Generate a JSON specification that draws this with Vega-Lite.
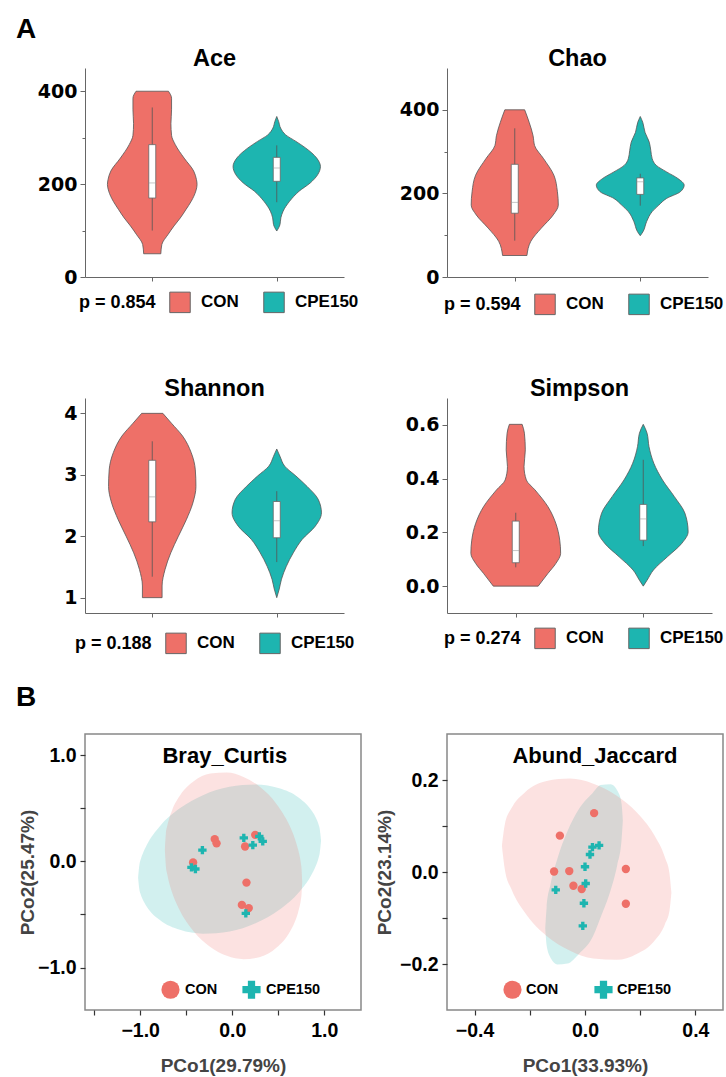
{
  "$schema": "https://vega.github.io/schema/vega-lite/v6.json",
  "background": "white",
  "padding": {"left": 15, "top": 15, "right": 0, "bottom": 0},
  "title": {"text": "A", "anchor": "start", "frame": "group", "dx": -69, "offset": 3, "fontSize": 28},
  "columns": 2,
  "align": "none",
  "bounds": "flush",
  "spacing": {"row": 121, "column": 86},
  "resolve": {"scale": {"color": "independent", "shape": "independent"}, "legend": {"color": "independent", "shape": "independent"}},
  "config": {
    "view": {"stroke": null},
    "axis": {"grid": false, "domainColor": "#666", "tickColor": "#666", "labelColor": "#000", "labelFont": "DejaVu Sans", "labelFontWeight": "bold", "labelFontSize": 19, "labelPadding": 3},
    "legend": {"padding": 0, "orient": "none", "direction": "horizontal", "symbolType": "square", "symbolSize": 420, "symbolStrokeColor": "#666", "symbolStrokeWidth": 1, "symbolOpacity": 1, "labelFont": "Liberation Sans", "labelFontWeight": "bold", "labelFontSize": 17, "labelColor": "#000", "labelOffset": 10, "columnPadding": 22, "titleFont": "Liberation Sans", "titleFontWeight": "bold", "titleFontSize": 18, "titleColor": "#000", "titlePadding": 13, "titleOrient": "left", "titleAnchor": "middle", "titleBaseline": "middle"},
    "title": {"font": "Liberation Sans", "fontWeight": "bold", "color": "#000", "baseline": "alphabetic"}
  },
  "datasets": {
    "aceV": [
      {"g": "CON", "v": 400, "lo": -0.13, "hi": 0.13}, {"g": "CON", "v": 385, "lo": -0.155, "hi": 0.155}, {"g": "CON", "v": 360, "lo": -0.155, "hi": 0.155}, {"g": "CON", "v": 330, "lo": -0.15, "hi": 0.15}, {"g": "CON", "v": 305, "lo": -0.155, "hi": 0.155}, {"g": "CON", "v": 285, "lo": -0.185, "hi": 0.185}, {"g": "CON", "v": 256, "lo": -0.256, "hi": 0.256}, {"g": "CON", "v": 228, "lo": -0.333, "hi": 0.333}, {"g": "CON", "v": 210, "lo": -0.355, "hi": 0.355}, {"g": "CON", "v": 199, "lo": -0.36, "hi": 0.36}, {"g": "CON", "v": 185, "lo": -0.35, "hi": 0.35}, {"g": "CON", "v": 163, "lo": -0.313, "hi": 0.313}, {"g": "CON", "v": 145, "lo": -0.27, "hi": 0.27}, {"g": "CON", "v": 127, "lo": -0.225, "hi": 0.225}, {"g": "CON", "v": 110, "lo": -0.175, "hi": 0.175}, {"g": "CON", "v": 92, "lo": -0.128, "hi": 0.128}, {"g": "CON", "v": 70, "lo": -0.077, "hi": 0.077}, {"g": "CON", "v": 50, "lo": -0.069, "hi": 0.069},
      {"g": "CPE150", "v": 345.6, "lo": 1, "hi": 1}, {"g": "CPE150", "v": 335, "lo": 0.985, "hi": 1.015}, {"g": "CPE150", "v": 320.6, "lo": 0.969, "hi": 1.031}, {"g": "CPE150", "v": 306, "lo": 0.928, "hi": 1.072}, {"g": "CPE150", "v": 292, "lo": 0.846, "hi": 1.154}, {"g": "CPE150", "v": 278, "lo": 0.769, "hi": 1.231}, {"g": "CPE150", "v": 256, "lo": 0.679, "hi": 1.321}, {"g": "CPE150", "v": 238, "lo": 0.649, "hi": 1.351}, {"g": "CPE150", "v": 220, "lo": 0.672, "hi": 1.328}, {"g": "CPE150", "v": 202.5, "lo": 0.731, "hi": 1.269}, {"g": "CPE150", "v": 184.6, "lo": 0.821, "hi": 1.179}, {"g": "CPE150", "v": 163, "lo": 0.897, "hi": 1.103}, {"g": "CPE150", "v": 141.7, "lo": 0.949, "hi": 1.051}, {"g": "CPE150", "v": 127.4, "lo": 0.967, "hi": 1.033}, {"g": "CPE150", "v": 113, "lo": 0.974, "hi": 1.026}, {"g": "CPE150", "v": 99, "lo": 1, "hi": 1}
    ],
    "aceB": [
      {"g": "CON", "c": 0, "q1": 170, "q3": 285, "med": 202.5, "lo": 100, "hi": 365},
      {"g": "CPE150", "c": 1, "q1": 206, "q3": 257.6, "med": 234.7, "lo": 161, "hi": 283.4}
    ],
    "chaoV": [
      {"g": "CON", "v": 400, "lo": -0.079, "hi": 0.079}, {"g": "CON", "v": 370, "lo": -0.115, "hi": 0.115}, {"g": "CON", "v": 338, "lo": -0.146, "hi": 0.146}, {"g": "CON", "v": 314.6, "lo": -0.158, "hi": 0.158}, {"g": "CON", "v": 283, "lo": -0.23, "hi": 0.23}, {"g": "CON", "v": 243.5, "lo": -0.312, "hi": 0.312}, {"g": "CON", "v": 204, "lo": -0.34, "hi": 0.34}, {"g": "CON", "v": 172, "lo": -0.347, "hi": 0.347}, {"g": "CON", "v": 148.6, "lo": -0.307, "hi": 0.307}, {"g": "CON", "v": 117, "lo": -0.212, "hi": 0.212}, {"g": "CON", "v": 85.4, "lo": -0.128, "hi": 0.128}, {"g": "CON", "v": 51.4, "lo": -0.097, "hi": 0.097},
      {"g": "CPE150", "v": 384, "lo": 1, "hi": 1}, {"g": "CPE150", "v": 370, "lo": 0.98, "hi": 1.02}, {"g": "CPE150", "v": 346, "lo": 0.962, "hi": 1.038}, {"g": "CPE150", "v": 322.5, "lo": 0.928, "hi": 1.072}, {"g": "CPE150", "v": 302.8, "lo": 0.916, "hi": 1.084}, {"g": "CPE150", "v": 283, "lo": 0.905, "hi": 1.095}, {"g": "CPE150", "v": 267, "lo": 0.872, "hi": 1.128}, {"g": "CPE150", "v": 251.4, "lo": 0.79, "hi": 1.21}, {"g": "CPE150", "v": 235.6, "lo": 0.7, "hi": 1.3}, {"g": "CPE150", "v": 219.8, "lo": 0.65, "hi": 1.35}, {"g": "CPE150", "v": 204, "lo": 0.68, "hi": 1.32}, {"g": "CPE150", "v": 188, "lo": 0.79, "hi": 1.21}, {"g": "CPE150", "v": 172, "lo": 0.852, "hi": 1.148}, {"g": "CPE150", "v": 156.5, "lo": 0.905, "hi": 1.095}, {"g": "CPE150", "v": 132.8, "lo": 0.949, "hi": 1.051}, {"g": "CPE150", "v": 109, "lo": 0.977, "hi": 1.023}, {"g": "CPE150", "v": 98.8, "lo": 1, "hi": 1}
    ],
    "chaoB": [
      {"g": "CON", "c": 0, "q1": 152.6, "q3": 269.6, "med": 178.7, "lo": 87, "hi": 355.7},
      {"g": "CPE150", "c": 1, "q1": 197.6, "q3": 237, "med": 227.7, "lo": 170.7, "hi": 247}
    ],
    "shanV": [
      {"g": "CON", "v": 4.0, "lo": -0.085, "hi": 0.085}, {"g": "CON", "v": 3.84, "lo": -0.154, "hi": 0.154}, {"g": "CON", "v": 3.63, "lo": -0.244, "hi": 0.244}, {"g": "CON", "v": 3.36, "lo": -0.313, "hi": 0.313}, {"g": "CON", "v": 3.08, "lo": -0.346, "hi": 0.346}, {"g": "CON", "v": 2.81, "lo": -0.351, "hi": 0.351}, {"g": "CON", "v": 2.54, "lo": -0.326, "hi": 0.326}, {"g": "CON", "v": 2.27, "lo": -0.274, "hi": 0.274}, {"g": "CON", "v": 2.0, "lo": -0.21, "hi": 0.21}, {"g": "CON", "v": 1.73, "lo": -0.149, "hi": 0.149}, {"g": "CON", "v": 1.46, "lo": -0.103, "hi": 0.103}, {"g": "CON", "v": 1.19, "lo": -0.079, "hi": 0.079}, {"g": "CON", "v": 1.0, "lo": -0.079, "hi": 0.079},
      {"g": "CPE150", "v": 3.42, "lo": 1, "hi": 1}, {"g": "CPE150", "v": 3.3, "lo": 0.974, "hi": 1.026}, {"g": "CPE150", "v": 3.14, "lo": 0.936, "hi": 1.064}, {"g": "CPE150", "v": 2.98, "lo": 0.846, "hi": 1.154}, {"g": "CPE150", "v": 2.81, "lo": 0.756, "hi": 1.244}, {"g": "CPE150", "v": 2.6, "lo": 0.667, "hi": 1.333}, {"g": "CPE150", "v": 2.38, "lo": 0.641, "hi": 1.359}, {"g": "CPE150", "v": 2.16, "lo": 0.692, "hi": 1.308}, {"g": "CPE150", "v": 1.95, "lo": 0.795, "hi": 1.205}, {"g": "CPE150", "v": 1.73, "lo": 0.867, "hi": 1.133}, {"g": "CPE150", "v": 1.51, "lo": 0.923, "hi": 1.077}, {"g": "CPE150", "v": 1.3, "lo": 0.962, "hi": 1.038}, {"g": "CPE150", "v": 1.14, "lo": 0.98, "hi": 1.02}, {"g": "CPE150", "v": 1.0, "lo": 1, "hi": 1}
    ],
    "shanB": [
      {"g": "CON", "c": 0, "q1": 2.234, "q3": 3.236, "med": 2.64, "lo": 1.341, "hi": 3.545},
      {"g": "CPE150", "c": 1, "q1": 1.975, "q3": 2.565, "med": 2.251, "lo": 1.579, "hi": 2.733}
    ],
    "simpV": [
      {"g": "CON", "v": 0.602, "lo": -0.05, "hi": 0.05}, {"g": "CON", "v": 0.569, "lo": -0.068, "hi": 0.068}, {"g": "CON", "v": 0.507, "lo": -0.075, "hi": 0.075}, {"g": "CON", "v": 0.445, "lo": -0.065, "hi": 0.065}, {"g": "CON", "v": 0.395, "lo": -0.083, "hi": 0.083}, {"g": "CON", "v": 0.358, "lo": -0.151, "hi": 0.151}, {"g": "CON", "v": 0.296, "lo": -0.252, "hi": 0.252}, {"g": "CON", "v": 0.234, "lo": -0.314, "hi": 0.314}, {"g": "CON", "v": 0.171, "lo": -0.345, "hi": 0.345}, {"g": "CON", "v": 0.122, "lo": -0.352, "hi": 0.352}, {"g": "CON", "v": 0.084, "lo": -0.314, "hi": 0.314}, {"g": "CON", "v": 0.047, "lo": -0.252, "hi": 0.252}, {"g": "CON", "v": 0.0, "lo": -0.176, "hi": 0.176},
      {"g": "CPE150", "v": 0.602, "lo": 1, "hi": 1}, {"g": "CPE150", "v": 0.569, "lo": 0.97, "hi": 1.03}, {"g": "CPE150", "v": 0.519, "lo": 0.955, "hi": 1.045}, {"g": "CPE150", "v": 0.457, "lo": 0.917, "hi": 1.083}, {"g": "CPE150", "v": 0.395, "lo": 0.849, "hi": 1.151}, {"g": "CPE150", "v": 0.333, "lo": 0.756, "hi": 1.244}, {"g": "CPE150", "v": 0.271, "lo": 0.673, "hi": 1.327}, {"g": "CPE150", "v": 0.202, "lo": 0.648, "hi": 1.352}, {"g": "CPE150", "v": 0.159, "lo": 0.698, "hi": 1.302}, {"g": "CPE150", "v": 0.109, "lo": 0.811, "hi": 1.189}, {"g": "CPE150", "v": 0.06, "lo": 0.92, "hi": 1.08}, {"g": "CPE150", "v": 0.022, "lo": 0.97, "hi": 1.03}, {"g": "CPE150", "v": 0.0, "lo": 1, "hi": 1}
    ],
    "simpB": [
      {"g": "CON", "c": 0, "q1": 0.087, "q3": 0.242, "med": 0.132, "lo": 0.07, "hi": 0.273},
      {"g": "CPE150", "c": 1, "q1": 0.171, "q3": 0.304, "med": 0.25, "lo": 0.149, "hi": 0.47}
    ],
    "brayE": [
      {"g": "CON", "x": -0.732, "hi": 0.111, "lo": 0.111}, {"g": "CON", "x": -0.721, "hi": 0.261, "lo": -0.044}, {"g": "CON", "x": -0.706, "hi": 0.333, "lo": -0.122}, {"g": "CON", "x": -0.688, "hi": 0.395, "lo": -0.191}, {"g": "CON", "x": -0.652, "hi": 0.485, "lo": -0.296}, {"g": "CON", "x": -0.562, "hi": 0.627, "lo": -0.475}, {"g": "CON", "x": -0.418, "hi": 0.754, "lo": -0.66}, {"g": "CON", "x": -0.238, "hi": 0.827, "lo": -0.806}, {"g": "CON", "x": -0.058, "hi": 0.837, "lo": -0.89}, {"g": "CON", "x": 0.123, "hi": 0.795, "lo": -0.921}, {"g": "CON", "x": 0.303, "hi": 0.7, "lo": -0.9}, {"g": "CON", "x": 0.483, "hi": 0.539, "lo": -0.812}, {"g": "CON", "x": 0.627, "hi": 0.33, "lo": -0.662}, {"g": "CON", "x": 0.681, "hi": 0.214, "lo": -0.568}, {"g": "CON", "x": 0.717, "hi": 0.109, "lo": -0.478}, {"g": "CON", "x": 0.746, "hi": -0.015, "lo": -0.364}, {"g": "CON", "x": 0.753, "hi": -0.064, "lo": -0.318}, {"g": "CON", "x": 0.761, "hi": -0.193, "lo": -0.193},
      {"g": "CPE150", "x": -1.023, "hi": -0.152, "lo": -0.152}, {"g": "CPE150", "x": -1.009, "hi": -0.033, "lo": -0.265}, {"g": "CPE150", "x": -0.995, "hi": 0.017, "lo": -0.31}, {"g": "CPE150", "x": -0.966, "hi": 0.087, "lo": -0.37}, {"g": "CPE150", "x": -0.93, "hi": 0.153, "lo": -0.424}, {"g": "CPE150", "x": -0.786, "hi": 0.332, "lo": -0.553}, {"g": "CPE150", "x": -0.569, "hi": 0.5, "lo": -0.645}, {"g": "CPE150", "x": -0.317, "hi": 0.624, "lo": -0.681}, {"g": "CPE150", "x": -0.029, "hi": 0.703, "lo": -0.66}, {"g": "CPE150", "x": 0.259, "hi": 0.724, "lo": -0.58}, {"g": "CPE150", "x": 0.512, "hi": 0.688, "lo": -0.456}, {"g": "CPE150", "x": 0.728, "hi": 0.596, "lo": -0.289}, {"g": "CPE150", "x": 0.872, "hi": 0.467, "lo": -0.11}, {"g": "CPE150", "x": 0.908, "hi": 0.414, "lo": -0.044}, {"g": "CPE150", "x": 0.937, "hi": 0.353, "lo": 0.027}, {"g": "CPE150", "x": 0.951, "hi": 0.308, "lo": 0.077}, {"g": "CPE150", "x": 0.966, "hi": 0.195, "lo": 0.195}
    ],
    "brayP": [
      {"g": "CON", "x": -0.19, "y": 0.21}, {"g": "CON", "x": -0.17, "y": 0.17}, {"g": "CON", "x": 0.25, "y": 0.25}, {"g": "CON", "x": 0.14, "y": 0.14}, {"g": "CON", "x": -0.425, "y": -0.01}, {"g": "CON", "x": 0.155, "y": -0.2}, {"g": "CON", "x": 0.105, "y": -0.41}, {"g": "CON", "x": 0.18, "y": -0.44},
      {"g": "CPE150", "x": -0.324, "y": 0.106}, {"g": "CPE150", "x": -0.443, "y": -0.056}, {"g": "CPE150", "x": -0.4, "y": -0.072}, {"g": "CPE150", "x": 0.126, "y": 0.222}, {"g": "CPE150", "x": 0.224, "y": 0.153}, {"g": "CPE150", "x": 0.295, "y": 0.235}, {"g": "CPE150", "x": 0.332, "y": 0.188}, {"g": "CPE150", "x": 0.148, "y": -0.49}
    ],
    "abE": [
      {"g": "CON", "x": -0.301, "hi": 0.0565, "lo": 0.0565}, {"g": "CON", "x": -0.29, "hi": 0.105, "lo": 0.004}, {"g": "CON", "x": -0.266, "hi": 0.139, "lo": -0.038}, {"g": "CON", "x": -0.218, "hi": 0.173, "lo": -0.088}, {"g": "CON", "x": -0.139, "hi": 0.198, "lo": -0.139}, {"g": "CON", "x": -0.054, "hi": 0.203, "lo": -0.171}, {"g": "CON", "x": 0.03, "hi": 0.192, "lo": -0.188}, {"g": "CON", "x": 0.115, "hi": 0.166, "lo": -0.191}, {"g": "CON", "x": 0.187, "hi": 0.13, "lo": -0.178}, {"g": "CON", "x": 0.248, "hi": 0.083, "lo": -0.152}, {"g": "CON", "x": 0.29, "hi": 0.031, "lo": -0.113}, {"g": "CON", "x": 0.306, "hi": -0.0025, "lo": -0.085}, {"g": "CON", "x": 0.313, "hi": -0.045, "lo": -0.045},
      {"g": "CPE150", "x": -0.144, "hi": -0.1225, "lo": -0.1225}, {"g": "CPE150", "x": -0.139, "hi": -0.077, "lo": -0.16}, {"g": "CPE150", "x": -0.1245, "hi": -0.026, "lo": -0.187}, {"g": "CPE150", "x": -0.1, "hi": 0.029, "lo": -0.201}, {"g": "CPE150", "x": -0.064, "hi": 0.088, "lo": -0.199}, {"g": "CPE150", "x": -0.022, "hi": 0.137, "lo": -0.178}, {"g": "CPE150", "x": 0.028, "hi": 0.172, "lo": -0.141}, {"g": "CPE150", "x": 0.057, "hi": 0.189, "lo": -0.098}, {"g": "CPE150", "x": 0.093, "hi": 0.191, "lo": -0.039}, {"g": "CPE150", "x": 0.117, "hi": 0.177, "lo": 0.016}, {"g": "CPE150", "x": 0.132, "hi": 0.15, "lo": 0.067}, {"g": "CPE150", "x": 0.137, "hi": 0.112, "lo": 0.112}
    ],
    "abP": [
      {"g": "CON", "x": 0.033, "y": 0.128}, {"g": "CON", "x": -0.091, "y": 0.079}, {"g": "CON", "x": -0.112, "y": 0.001}, {"g": "CON", "x": -0.057, "y": 0.002}, {"g": "CON", "x": -0.042, "y": -0.03}, {"g": "CON", "x": -0.012, "y": -0.037}, {"g": "CON", "x": 0.148, "y": 0.0065}, {"g": "CON", "x": 0.148, "y": -0.069},
      {"g": "CPE150", "x": 0.051, "y": 0.058}, {"g": "CPE150", "x": 0.027, "y": 0.054}, {"g": "CPE150", "x": 0.018, "y": 0.038}, {"g": "CPE150", "x": 0.0, "y": 0.0115}, {"g": "CPE150", "x": 0.0025, "y": -0.025}, {"g": "CPE150", "x": -0.106, "y": -0.039}, {"g": "CPE150", "x": -0.004, "y": -0.068}, {"g": "CPE150", "x": -0.008, "y": -0.117}
    ]
  },
  "concat": [
    {
      "width": 259, "height": 209,
      "title": {"text": "Ace", "fontSize": 23.5, "offset": -2},
      "layer": [
        {
          "data": {"name": "aceV"},
          "mark": {"type": "area", "orient": "horizontal", "interpolate": "monotone", "stroke": "#555", "strokeWidth": 0.8},
          "encoding": {
            "y": {"field": "v", "type": "quantitative", "scale": {"domain": [0, 450], "nice": false, "zero": false}, "axis": {"title": null, "values": [0, 100, 200, 300, 400], "labelExpr": "datum.value % 200 === 0 ? datum.label : ''", "tickSize": {"condition": {"test": "datum.value % 200 === 0", "value": 5}, "value": 3}}},
            "x": {"field": "lo", "type": "quantitative", "scale": {"domain": [-0.5, 1.5], "nice": false, "zero": false}, "axis": {"title": null, "values": [0, 1], "labels": false, "tickSize": 4}},
            "x2": {"field": "hi"},
            "color": {"field": "g", "type": "nominal", "scale": {"domain": ["CON", "CPE150"], "range": ["#EE7068", "#1DB5B0"]}, "legend": {"title": "p = 0.854", "legendX": -6, "legendY": 223}}
          }
        },
        {
          "data": {"name": "aceB"},
          "layer": [
            {"mark": {"type": "rule", "color": "#555", "opacity": 0.8}, "encoding": {"x": {"field": "c", "type": "quantitative", "title": null}, "y": {"field": "lo", "type": "quantitative", "title": null}, "y2": {"field": "hi"}}},
            {"mark": {"type": "bar", "width": 7, "fill": "white", "stroke": "#666", "strokeWidth": 0.8}, "encoding": {"x": {"field": "c", "type": "quantitative", "title": null}, "y": {"field": "q1", "type": "quantitative", "title": null}, "y2": {"field": "q3"}}},
            {"mark": {"type": "tick", "orient": "horizontal", "size": 7, "thickness": 0.8, "color": "#999"}, "encoding": {"x": {"field": "c", "type": "quantitative", "title": null}, "y": {"field": "med", "type": "quantitative", "title": null}}}
          ]
        }
      ]
    },
    {
      "width": 261, "height": 209,
      "title": {"text": "Chao", "fontSize": 23.5, "offset": -2},
      "layer": [
        {
          "data": {"name": "chaoV"},
          "mark": {"type": "area", "orient": "horizontal", "interpolate": "monotone", "stroke": "#555", "strokeWidth": 0.8},
          "encoding": {
            "y": {"field": "v", "type": "quantitative", "scale": {"domain": [0, 500], "nice": false, "zero": false}, "axis": {"title": null, "values": [0, 100, 200, 300, 400], "labelExpr": "datum.value % 200 === 0 ? datum.label : ''", "tickSize": {"condition": {"test": "datum.value % 200 === 0", "value": 5}, "value": 3}}},
            "x": {"field": "lo", "type": "quantitative", "scale": {"domain": [-0.5, 1.5], "nice": false, "zero": false}, "axis": {"title": null, "values": [0, 1], "labels": false, "tickSize": 4}},
            "x2": {"field": "hi"},
            "color": {"field": "g", "type": "nominal", "scale": {"domain": ["CON", "CPE150"], "range": ["#EE7068", "#1DB5B0"]}, "legend": {"title": "p = 0.594", "legendX": -3, "legendY": 225}}
          }
        },
        {
          "data": {"name": "chaoB"},
          "layer": [
            {"mark": {"type": "rule", "color": "#555", "opacity": 0.8}, "encoding": {"x": {"field": "c", "type": "quantitative", "title": null}, "y": {"field": "lo", "type": "quantitative", "title": null}, "y2": {"field": "hi"}}},
            {"mark": {"type": "bar", "width": 7, "fill": "white", "stroke": "#666", "strokeWidth": 0.8}, "encoding": {"x": {"field": "c", "type": "quantitative", "title": null}, "y": {"field": "q1", "type": "quantitative", "title": null}, "y2": {"field": "q3"}}},
            {"mark": {"type": "tick", "orient": "horizontal", "size": 7, "thickness": 0.8, "color": "#999"}, "encoding": {"x": {"field": "c", "type": "quantitative", "title": null}, "y": {"field": "med", "type": "quantitative", "title": null}}}
          ]
        }
      ]
    },
    {
      "width": 259, "height": 215,
      "title": {"text": "Shannon", "fontSize": 23.5, "offset": -2},
      "layer": [
        {
          "data": {"name": "shanV"},
          "mark": {"type": "area", "orient": "horizontal", "interpolate": "monotone", "stroke": "#555", "strokeWidth": 0.8},
          "encoding": {
            "y": {"field": "v", "type": "quantitative", "scale": {"domain": [0.75, 4.25], "nice": false, "zero": false}, "axis": {"title": null, "values": [1, 1.5, 2, 2.5, 3, 3.5, 4], "labelExpr": "datum.value % 1 === 0 ? format(datum.value, 'd') : ''", "tickSize": {"condition": {"test": "datum.value % 1 === 0", "value": 5}, "value": 3}}},
            "x": {"field": "lo", "type": "quantitative", "scale": {"domain": [-0.5, 1.5], "nice": false, "zero": false}, "axis": {"title": null, "values": [0, 1], "labels": false, "tickSize": 4}},
            "x2": {"field": "hi"},
            "color": {"field": "g", "type": "nominal", "scale": {"domain": ["CON", "CPE150"], "range": ["#EE7068", "#1DB5B0"]}, "legend": {"title": "p = 0.188", "legendX": -10, "legendY": 234}}
          }
        },
        {
          "data": {"name": "shanB"},
          "layer": [
            {"mark": {"type": "rule", "color": "#555", "opacity": 0.8}, "encoding": {"x": {"field": "c", "type": "quantitative", "title": null}, "y": {"field": "lo", "type": "quantitative", "title": null}, "y2": {"field": "hi"}}},
            {"mark": {"type": "bar", "width": 7, "fill": "white", "stroke": "#666", "strokeWidth": 0.8}, "encoding": {"x": {"field": "c", "type": "quantitative", "title": null}, "y": {"field": "q1", "type": "quantitative", "title": null}, "y2": {"field": "q3"}}},
            {"mark": {"type": "tick", "orient": "horizontal", "size": 7, "thickness": 0.8, "color": "#999"}, "encoding": {"x": {"field": "c", "type": "quantitative", "title": null}, "y": {"field": "med", "type": "quantitative", "title": null}}}
          ]
        }
      ]
    },
    {
      "width": 265, "height": 215,
      "title": {"text": "Simpson", "fontSize": 23.5, "offset": -2},
      "layer": [
        {
          "data": {"name": "simpV"},
          "mark": {"type": "area", "orient": "horizontal", "interpolate": "monotone", "stroke": "#555", "strokeWidth": 0.8},
          "encoding": {
            "y": {"field": "v", "type": "quantitative", "scale": {"domain": [-0.1, 0.7], "nice": false, "zero": false}, "axis": {"title": null, "values": [0, 0.1, 0.2, 0.3, 0.4, 0.5, 0.6], "labelExpr": "round(datum.value * 10) % 2 === 0 ? format(datum.value, '.1f') : ''", "tickSize": {"condition": {"test": "round(datum.value * 10) % 2 === 0", "value": 5}, "value": 3}}},
            "x": {"field": "lo", "type": "quantitative", "scale": {"domain": [-0.5, 1.5], "nice": false, "zero": false}, "axis": {"title": null, "values": [0, 1], "labels": false, "tickSize": 4}},
            "x2": {"field": "hi"},
            "color": {"field": "g", "type": "nominal", "scale": {"domain": ["CON", "CPE150"], "range": ["#EE7068", "#1DB5B0"]}, "legend": {"title": "p = 0.274", "legendX": -3, "legendY": 229}}
          }
        },
        {
          "data": {"name": "simpB"},
          "layer": [
            {"mark": {"type": "rule", "color": "#555", "opacity": 0.8}, "encoding": {"x": {"field": "c", "type": "quantitative", "title": null}, "y": {"field": "lo", "type": "quantitative", "title": null}, "y2": {"field": "hi"}}},
            {"mark": {"type": "bar", "width": 7, "fill": "white", "stroke": "#666", "strokeWidth": 0.8}, "encoding": {"x": {"field": "c", "type": "quantitative", "title": null}, "y": {"field": "q1", "type": "quantitative", "title": null}, "y2": {"field": "q3"}}},
            {"mark": {"type": "tick", "orient": "horizontal", "size": 7, "thickness": 0.8, "color": "#999"}, "encoding": {"x": {"field": "c", "type": "quantitative", "title": null}, "y": {"field": "med", "type": "quantitative", "title": null}}}
          ]
        }
      ]
    },
    {
      "width": 276, "height": 276,
      "title": {"text": "B", "anchor": "start", "frame": "group", "dx": -69, "offset": 22, "fontSize": 28},
      "view": {"stroke": "#888", "strokeWidth": 1.5},
      "layer": [
        {
          "data": {"name": "brayE"},
          "transform": [{"filter": "datum.g === 'CPE150'"}],
          "mark": {"type": "area", "interpolate": "monotone", "color": "#1DB5B0", "opacity": 0.2},
          "encoding": {
            "x": {"field": "x", "type": "quantitative", "scale": {"domain": [-1.6, 1.4], "nice": false, "zero": false}, "axis": {"title": "PCo1(29.79%)", "values": [-1.5, -1, -0.5, 0, 0.5, 1], "labelExpr": "datum.value % 1 === 0 ? format(datum.value, '.1f') : ''", "domain": false, "tickSize": 5, "tickColor": "#333", "tickWidth": 1.2, "labelFont": "Liberation Sans", "labelFontSize": 19.5, "labelPadding": 6, "titleFont": "Liberation Sans", "titleFontSize": 19, "titleFontWeight": "bold", "titleColor": "#444", "titlePadding": 17}},
            "y": {"field": "hi", "type": "quantitative", "scale": {"domain": [-1.4, 1.2], "nice": false, "zero": false}, "axis": {"title": "PCo2(25.47%)", "values": [-1, -0.5, 0, 0.5, 1], "labelExpr": "datum.value % 1 === 0 ? format(datum.value, '.1f') : ''", "domain": false, "tickSize": 5, "tickColor": "#333", "tickWidth": 1.2, "labelFont": "Liberation Sans", "labelFontSize": 19.5, "labelPadding": 4, "titleFont": "Liberation Sans", "titleFontSize": 19, "titleFontWeight": "bold", "titleColor": "#444", "titlePadding": 0}},
            "y2": {"field": "lo"}
          }
        },
        {
          "data": {"name": "brayE"},
          "transform": [{"filter": "datum.g === 'CON'"}],
          "mark": {"type": "area", "interpolate": "monotone", "color": "#EE7068", "opacity": 0.2},
          "encoding": {
            "x": {"field": "x", "type": "quantitative"},
            "y": {"field": "hi", "type": "quantitative"},
            "y2": {"field": "lo"}
          }
        },
        {
          "data": {"name": "brayP"},
          "mark": {"type": "point", "filled": true, "opacity": 1, "size": 70},
          "encoding": {
            "x": {"field": "x", "type": "quantitative"},
            "y": {"field": "y", "type": "quantitative"},
            "color": {"field": "g", "type": "nominal", "scale": {"domain": ["CON", "CPE150"], "range": ["#EE7068", "#1DB5B0"]}, "legend": {"title": null, "legendX": 76, "legendY": 246, "symbolSize": 330, "symbolStrokeWidth": 0, "labelFontSize": 14.5, "labelOffset": 5, "columnPadding": 24}},
            "shape": {"field": "g", "type": "nominal", "scale": {"domain": ["CON", "CPE150"], "range": ["circle", "cross"]}, "legend": {"title": null, "legendX": 76, "legendY": 246, "symbolSize": 330, "symbolStrokeWidth": 0, "labelFontSize": 14.5, "labelOffset": 5, "columnPadding": 24}}
          }
        },
        {
          "data": {"values": [{"label": "Bray_Curtis"}]},
          "mark": {"type": "text", "font": "Liberation Sans", "fontWeight": "bold", "fontSize": 22, "baseline": "alphabetic", "color": "#000"},
          "encoding": {
            "text": {"field": "label"},
            "x": {"datum": -0.08, "type": "quantitative"},
            "y": {"datum": 0.927, "type": "quantitative"}
          }
        }
      ]
    },
    {
      "width": 276, "height": 276,
      "title": {"text": "Abund_Jaccard", "anchor": "middle", "frame": "group", "dx": 10, "offset": -33.5, "fontSize": 22},
      "view": {"stroke": "#888", "strokeWidth": 1.5},
      "layer": [
        {
          "data": {"name": "abE"},
          "transform": [{"filter": "datum.g === 'CPE150'"}],
          "mark": {"type": "area", "interpolate": "monotone", "color": "#1DB5B0", "opacity": 0.2},
          "encoding": {
            "x": {"field": "x", "type": "quantitative", "scale": {"domain": [-0.5, 0.5], "nice": false, "zero": false}, "axis": {"title": "PCo1(33.93%)", "values": [-0.4, -0.2, 0, 0.2, 0.4], "labelExpr": "abs(round(datum.value * 10)) % 4 === 0 ? format(datum.value, '.1f') : ''", "domain": false, "tickSize": 5, "tickColor": "#333", "tickWidth": 1.2, "labelFont": "Liberation Sans", "labelFontSize": 19.5, "labelPadding": 6, "titleFont": "Liberation Sans", "titleFontSize": 19, "titleFontWeight": "bold", "titleColor": "#444", "titlePadding": 17}},
            "y": {"field": "hi", "type": "quantitative", "scale": {"domain": [-0.3, 0.3], "nice": false, "zero": false}, "axis": {"title": "PCo2(23.14%)", "values": [-0.2, -0.1, 0, 0.1, 0.2], "labelExpr": "abs(round(datum.value * 10)) % 2 === 0 ? format(datum.value, '.1f') : ''", "domain": false, "tickSize": 5, "tickColor": "#333", "tickWidth": 1.2, "labelFont": "Liberation Sans", "labelFontSize": 19.5, "labelPadding": 4, "titleFont": "Liberation Sans", "titleFontSize": 19, "titleFontWeight": "bold", "titleColor": "#444", "titlePadding": 5}},
            "y2": {"field": "lo"}
          }
        },
        {
          "data": {"name": "abE"},
          "transform": [{"filter": "datum.g === 'CON'"}],
          "mark": {"type": "area", "interpolate": "monotone", "color": "#EE7068", "opacity": 0.2},
          "encoding": {
            "x": {"field": "x", "type": "quantitative"},
            "y": {"field": "hi", "type": "quantitative"},
            "y2": {"field": "lo"}
          }
        },
        {
          "data": {"name": "abP"},
          "mark": {"type": "point", "filled": true, "opacity": 1, "size": 70},
          "encoding": {
            "x": {"field": "x", "type": "quantitative"},
            "y": {"field": "y", "type": "quantitative"},
            "color": {"field": "g", "type": "nominal", "scale": {"domain": ["CON", "CPE150"], "range": ["#EE7068", "#1DB5B0"]}, "legend": {"title": null, "legendX": 56, "legendY": 246, "symbolSize": 330, "symbolStrokeWidth": 0, "labelFontSize": 14.5, "labelOffset": 4, "columnPadding": 35}},
            "shape": {"field": "g", "type": "nominal", "scale": {"domain": ["CON", "CPE150"], "range": ["circle", "cross"]}, "legend": {"title": null, "legendX": 56, "legendY": 246, "symbolSize": 330, "symbolStrokeWidth": 0, "labelFontSize": 14.5, "labelOffset": 4, "columnPadding": 35}}
          }
        }
      ]
    }
  ]
}
